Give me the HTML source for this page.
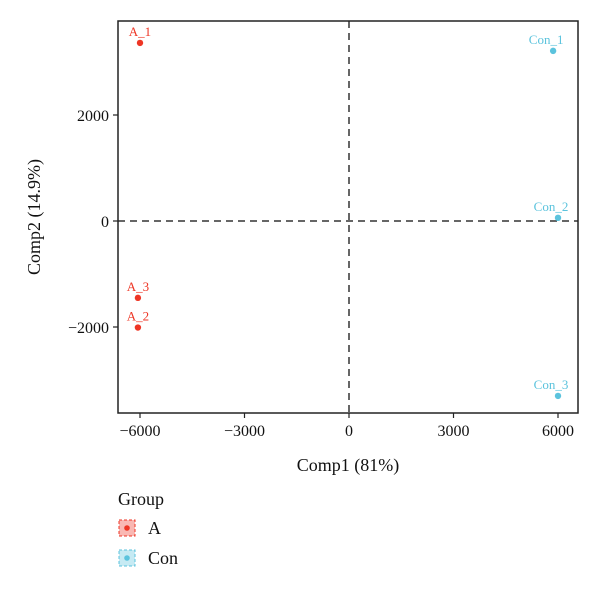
<!DOCTYPE html>
<html><head><meta charset="utf-8"><style>
body{margin:0;background:#fff;font-family:"Liberation Serif",serif}
</style></head><body>
<svg id="chart" width="600" height="588" xmlns="http://www.w3.org/2000/svg" font-family="Liberation Serif, serif"></svg>
<script>
const labels=["A_1","A_2","A_3","Con_1","Con_2","Con_3"];
const groups=["A","A","A","Con","Con","Con"];
const comp1=[-6000,-6060,-6060,5860,6000,6000];
const comp2=[3360,-2010,-1450,3210,60,-3300];
const xTicks=[-6000,-3000,0,3000,6000];
const yTicks=[-2000,0,2000];
const colors={A:"#ee3524",Con:"#5bc3dd"};
const L=118,R=578,T=21,B=413;
const sx=v=>349+v*(104.5/3000);
const sy=v=>221-v*(106/2000);
const svg=document.getElementById('chart');
const NS="http://www.w3.org/2000/svg";
function mk(t,a,p){const e=document.createElementNS(NS,t);for(const k in a)e.setAttribute(k,a[k]);(p||svg).appendChild(e);return e;}
let e;
e=mk('line',{x1:L,x2:R,y1:sy(0),y2:sy(0),stroke:'#333','stroke-width':1.5,'stroke-dasharray':'7,5'});


e=mk('line',{x1:sx(0),x2:sx(0),y1:T,y2:B,stroke:'#333','stroke-width':1.5,'stroke-dasharray':'7,5'});


e=mk('rect',{x:L,y:T,width:R-L,height:B-T,fill:'none',stroke:'#222','stroke-width':1.5});


xTicks.forEach(v=>{
 e=mk('line',{x1:sx(v),x2:sx(v),y1:B,y2:B+5,stroke:'#222','stroke-width':1.2});
 
 
 e=mk('text',{x:sx(v),y:B+23,'text-anchor':'middle','font-size':16,fill:'#111'});
 e.textContent=v<0?'\u2212'+(-v):v;
 
 
});
yTicks.forEach(v=>{
 e=mk('line',{x1:L-5,x2:L,y1:sy(v),y2:sy(v),stroke:'#222','stroke-width':1.2});
 
 
 e=mk('text',{x:L-9,y:sy(v)+6,'text-anchor':'end','font-size':16,fill:'#111'});
 e.textContent=v<0?'\u2212'+(-v):v;
 
 
});
e=mk('text',{x:348,y:471,'text-anchor':'middle','font-size':18,fill:'#111'});
e.textContent='Comp1 (81%)';


e=mk('text',{x:0,y:0,'text-anchor':'middle','font-size':18,fill:'#111',transform:'translate(40,217) rotate(-90)'});
e.textContent='Comp2 (14.9%)';


labels.forEach((lb,i)=>{
 const c=colors[groups[i]];
 e=mk('circle',{cx:sx(comp1[i]),cy:sy(comp2[i]),r:3.2,fill:c});
 
 
 e=mk('text',{x:sx(comp1[i])-(groups[i]==='Con'?7:0),y:sy(comp2[i])-7,'text-anchor':'middle','font-size':13,fill:c});
 e.textContent=lb;
 
 
});
e=mk('text',{x:118,y:505,'font-size':18,fill:'#111'});
e.textContent='Group';


[['A',528],['Con',558]].forEach(([g,y])=>{
 const c=colors[g];
 const gr=mk('g',{});
 
 
 mk('rect',{x:119,y:y-8,width:16,height:16,fill:c,'fill-opacity':0.35,stroke:c,'stroke-dasharray':'3,2'},gr);
 mk('circle',{cx:127,cy:y,r:2.8,fill:c},gr);
 const t=mk('text',{x:148,y:y+6,'font-size':18,fill:'#111'},gr);
 t.textContent=g;
});
</script>
</body></html>
